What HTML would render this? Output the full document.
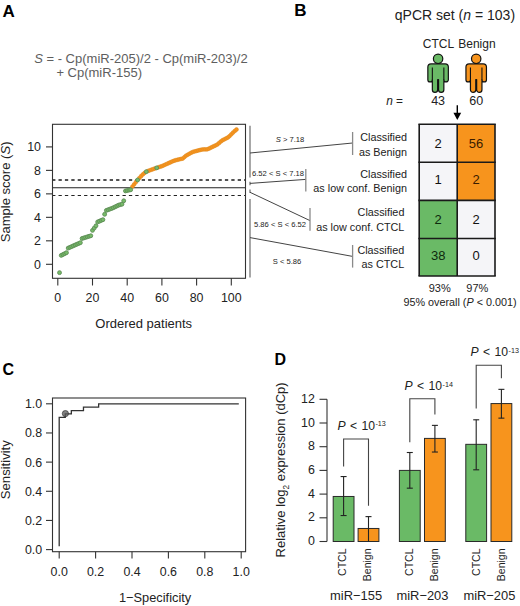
<!DOCTYPE html>
<html><head><meta charset="utf-8"><style>
html,body{margin:0;padding:0;background:#fff;}
svg{display:block;font-family:"Liberation Sans", sans-serif;}
</style></head><body>
<svg width="520" height="606" viewBox="0 0 520 606">
<rect width="520" height="606" fill="#fff"/>
<text x="2.5" y="16.8" font-size="17" text-anchor="start" font-weight="bold" fill="#000" >A</text>
<text x="294.2" y="16.3" font-size="17" text-anchor="start" font-weight="bold" fill="#000" >B</text>
<text x="2.4" y="374.9" font-size="16" text-anchor="start" font-weight="bold" fill="#000" >C</text>
<text x="274.4" y="364.9" font-size="16" text-anchor="start" font-weight="bold" fill="#000" >D</text>
<text x="34.2" y="63" font-size="13" fill="#5e5e5e"><tspan font-style="italic">S</tspan> = - Cp(miR-205)/2 - Cp(miR-203)/2</text>
<text x="56.4" y="77.3" font-size="13" text-anchor="start" font-weight="normal" fill="#5e5e5e" >+ Cp(miR-155)</text>
<line x1="52.5" y1="180.0068" x2="245.5" y2="180.0068" stroke="#1a1a1a" stroke-width="1.3" stroke-dasharray="3.3 3.1" stroke-dashoffset="0.4"/>
<line x1="52.5" y1="195.5036" x2="245.5" y2="195.5036" stroke="#222" stroke-width="1.1" stroke-dasharray="3.3 3.1" stroke-dashoffset="0.4"/>
<line x1="52.5" y1="187.7552" x2="245.5" y2="187.7552" stroke="#222" stroke-width="1.1" />
<circle cx="132.41" cy="186.58" r="1.9" fill="#f7941d" stroke="#e08a1f" stroke-width="0.6"/>
<circle cx="134.14" cy="184.33" r="1.9" fill="#f7941d" stroke="#e08a1f" stroke-width="0.6"/>
<circle cx="135.88" cy="182.07" r="1.9" fill="#f7941d" stroke="#e08a1f" stroke-width="0.6"/>
<circle cx="139.34" cy="178.08" r="1.9" fill="#f7941d" stroke="#e08a1f" stroke-width="0.6"/>
<circle cx="141.08" cy="176.18" r="1.9" fill="#f7941d" stroke="#e08a1f" stroke-width="0.6"/>
<circle cx="142.81" cy="174.40" r="1.9" fill="#f7941d" stroke="#e08a1f" stroke-width="0.6"/>
<circle cx="144.55" cy="172.93" r="1.9" fill="#f7941d" stroke="#e08a1f" stroke-width="0.6"/>
<circle cx="148.02" cy="170.99" r="1.9" fill="#f7941d" stroke="#e08a1f" stroke-width="0.6"/>
<circle cx="149.75" cy="170.31" r="1.9" fill="#f7941d" stroke="#e08a1f" stroke-width="0.6"/>
<circle cx="151.49" cy="169.70" r="1.9" fill="#f7941d" stroke="#e08a1f" stroke-width="0.6"/>
<circle cx="153.23" cy="169.08" r="1.9" fill="#f7941d" stroke="#e08a1f" stroke-width="0.6"/>
<circle cx="154.96" cy="168.46" r="1.9" fill="#f7941d" stroke="#e08a1f" stroke-width="0.6"/>
<circle cx="158.43" cy="167.29" r="1.9" fill="#f7941d" stroke="#e08a1f" stroke-width="0.6"/>
<circle cx="160.17" cy="166.72" r="1.9" fill="#f7941d" stroke="#e08a1f" stroke-width="0.6"/>
<circle cx="161.90" cy="166.15" r="1.9" fill="#f7941d" stroke="#e08a1f" stroke-width="0.6"/>
<circle cx="163.63" cy="165.37" r="1.9" fill="#f7941d" stroke="#e08a1f" stroke-width="0.6"/>
<circle cx="165.37" cy="164.59" r="1.9" fill="#f7941d" stroke="#e08a1f" stroke-width="0.6"/>
<circle cx="167.11" cy="163.81" r="1.9" fill="#f7941d" stroke="#e08a1f" stroke-width="0.6"/>
<circle cx="168.84" cy="163.02" r="1.9" fill="#f7941d" stroke="#e08a1f" stroke-width="0.6"/>
<circle cx="170.57" cy="162.24" r="1.9" fill="#f7941d" stroke="#e08a1f" stroke-width="0.6"/>
<circle cx="172.31" cy="161.46" r="1.9" fill="#f7941d" stroke="#e08a1f" stroke-width="0.6"/>
<circle cx="174.05" cy="160.77" r="1.9" fill="#f7941d" stroke="#e08a1f" stroke-width="0.6"/>
<circle cx="175.78" cy="160.21" r="1.9" fill="#f7941d" stroke="#e08a1f" stroke-width="0.6"/>
<circle cx="177.51" cy="159.76" r="1.9" fill="#f7941d" stroke="#e08a1f" stroke-width="0.6"/>
<circle cx="179.25" cy="159.35" r="1.9" fill="#f7941d" stroke="#e08a1f" stroke-width="0.6"/>
<circle cx="180.99" cy="158.94" r="1.9" fill="#f7941d" stroke="#e08a1f" stroke-width="0.6"/>
<circle cx="182.72" cy="158.53" r="1.9" fill="#f7941d" stroke="#e08a1f" stroke-width="0.6"/>
<circle cx="184.45" cy="157.04" r="1.9" fill="#f7941d" stroke="#e08a1f" stroke-width="0.6"/>
<circle cx="186.19" cy="155.57" r="1.9" fill="#f7941d" stroke="#e08a1f" stroke-width="0.6"/>
<circle cx="187.93" cy="154.59" r="1.9" fill="#f7941d" stroke="#e08a1f" stroke-width="0.6"/>
<circle cx="189.66" cy="153.61" r="1.9" fill="#f7941d" stroke="#e08a1f" stroke-width="0.6"/>
<circle cx="191.39" cy="152.63" r="1.9" fill="#f7941d" stroke="#e08a1f" stroke-width="0.6"/>
<circle cx="193.13" cy="151.81" r="1.9" fill="#f7941d" stroke="#e08a1f" stroke-width="0.6"/>
<circle cx="194.87" cy="151.36" r="1.9" fill="#f7941d" stroke="#e08a1f" stroke-width="0.6"/>
<circle cx="196.60" cy="150.91" r="1.9" fill="#f7941d" stroke="#e08a1f" stroke-width="0.6"/>
<circle cx="198.33" cy="150.45" r="1.9" fill="#f7941d" stroke="#e08a1f" stroke-width="0.6"/>
<circle cx="200.07" cy="150.00" r="1.9" fill="#f7941d" stroke="#e08a1f" stroke-width="0.6"/>
<circle cx="201.81" cy="149.55" r="1.9" fill="#f7941d" stroke="#e08a1f" stroke-width="0.6"/>
<circle cx="203.54" cy="149.37" r="1.9" fill="#f7941d" stroke="#e08a1f" stroke-width="0.6"/>
<circle cx="205.27" cy="149.37" r="1.9" fill="#f7941d" stroke="#e08a1f" stroke-width="0.6"/>
<circle cx="207.01" cy="149.37" r="1.9" fill="#f7941d" stroke="#e08a1f" stroke-width="0.6"/>
<circle cx="208.75" cy="148.69" r="1.9" fill="#f7941d" stroke="#e08a1f" stroke-width="0.6"/>
<circle cx="210.48" cy="147.85" r="1.9" fill="#f7941d" stroke="#e08a1f" stroke-width="0.6"/>
<circle cx="212.22" cy="147.00" r="1.9" fill="#f7941d" stroke="#e08a1f" stroke-width="0.6"/>
<circle cx="213.95" cy="146.16" r="1.9" fill="#f7941d" stroke="#e08a1f" stroke-width="0.6"/>
<circle cx="215.69" cy="145.31" r="1.9" fill="#f7941d" stroke="#e08a1f" stroke-width="0.6"/>
<circle cx="217.42" cy="144.41" r="1.9" fill="#f7941d" stroke="#e08a1f" stroke-width="0.6"/>
<circle cx="219.16" cy="142.94" r="1.9" fill="#f7941d" stroke="#e08a1f" stroke-width="0.6"/>
<circle cx="220.89" cy="141.47" r="1.9" fill="#f7941d" stroke="#e08a1f" stroke-width="0.6"/>
<circle cx="222.62" cy="140.18" r="1.9" fill="#f7941d" stroke="#e08a1f" stroke-width="0.6"/>
<circle cx="224.36" cy="139.29" r="1.9" fill="#f7941d" stroke="#e08a1f" stroke-width="0.6"/>
<circle cx="226.10" cy="138.40" r="1.9" fill="#f7941d" stroke="#e08a1f" stroke-width="0.6"/>
<circle cx="227.83" cy="137.51" r="1.9" fill="#f7941d" stroke="#e08a1f" stroke-width="0.6"/>
<circle cx="229.56" cy="136.09" r="1.9" fill="#f7941d" stroke="#e08a1f" stroke-width="0.6"/>
<circle cx="231.30" cy="134.31" r="1.9" fill="#f7941d" stroke="#e08a1f" stroke-width="0.6"/>
<circle cx="233.04" cy="132.53" r="1.9" fill="#f7941d" stroke="#e08a1f" stroke-width="0.6"/>
<circle cx="234.77" cy="130.93" r="1.9" fill="#f7941d" stroke="#e08a1f" stroke-width="0.6"/>
<circle cx="236.50" cy="129.52" r="1.9" fill="#f7941d" stroke="#e08a1f" stroke-width="0.6"/>
<circle cx="59.53" cy="272.64" r="1.95" fill="#76bb68" stroke="#5d8c56" stroke-width="0.9"/>
<circle cx="61.27" cy="255.38" r="1.95" fill="#76bb68" stroke="#5d8c56" stroke-width="0.9"/>
<circle cx="63.00" cy="254.48" r="1.95" fill="#76bb68" stroke="#5d8c56" stroke-width="0.9"/>
<circle cx="64.74" cy="253.58" r="1.95" fill="#76bb68" stroke="#5d8c56" stroke-width="0.9"/>
<circle cx="66.47" cy="252.68" r="1.95" fill="#76bb68" stroke="#5d8c56" stroke-width="0.9"/>
<circle cx="68.21" cy="248.10" r="1.95" fill="#76bb68" stroke="#5d8c56" stroke-width="0.9"/>
<circle cx="69.94" cy="247.33" r="1.95" fill="#76bb68" stroke="#5d8c56" stroke-width="0.9"/>
<circle cx="71.68" cy="246.56" r="1.95" fill="#76bb68" stroke="#5d8c56" stroke-width="0.9"/>
<circle cx="73.41" cy="245.78" r="1.95" fill="#76bb68" stroke="#5d8c56" stroke-width="0.9"/>
<circle cx="75.15" cy="245.01" r="1.95" fill="#76bb68" stroke="#5d8c56" stroke-width="0.9"/>
<circle cx="76.88" cy="244.24" r="1.95" fill="#76bb68" stroke="#5d8c56" stroke-width="0.9"/>
<circle cx="78.62" cy="243.47" r="1.95" fill="#76bb68" stroke="#5d8c56" stroke-width="0.9"/>
<circle cx="80.35" cy="242.70" r="1.95" fill="#76bb68" stroke="#5d8c56" stroke-width="0.9"/>
<circle cx="82.09" cy="238.47" r="1.95" fill="#76bb68" stroke="#5d8c56" stroke-width="0.9"/>
<circle cx="83.83" cy="237.93" r="1.95" fill="#76bb68" stroke="#5d8c56" stroke-width="0.9"/>
<circle cx="85.56" cy="237.39" r="1.95" fill="#76bb68" stroke="#5d8c56" stroke-width="0.9"/>
<circle cx="87.30" cy="236.85" r="1.95" fill="#76bb68" stroke="#5d8c56" stroke-width="0.9"/>
<circle cx="89.03" cy="236.31" r="1.95" fill="#76bb68" stroke="#5d8c56" stroke-width="0.9"/>
<circle cx="90.77" cy="235.77" r="1.95" fill="#76bb68" stroke="#5d8c56" stroke-width="0.9"/>
<circle cx="92.50" cy="230.37" r="1.95" fill="#76bb68" stroke="#5d8c56" stroke-width="0.9"/>
<circle cx="94.23" cy="228.08" r="1.95" fill="#76bb68" stroke="#5d8c56" stroke-width="0.9"/>
<circle cx="95.97" cy="225.79" r="1.95" fill="#76bb68" stroke="#5d8c56" stroke-width="0.9"/>
<circle cx="97.70" cy="221.92" r="1.95" fill="#76bb68" stroke="#5d8c56" stroke-width="0.9"/>
<circle cx="99.44" cy="221.18" r="1.95" fill="#76bb68" stroke="#5d8c56" stroke-width="0.9"/>
<circle cx="101.17" cy="220.43" r="1.95" fill="#76bb68" stroke="#5d8c56" stroke-width="0.9"/>
<circle cx="102.91" cy="219.69" r="1.95" fill="#76bb68" stroke="#5d8c56" stroke-width="0.9"/>
<circle cx="104.65" cy="214.29" r="1.95" fill="#76bb68" stroke="#5d8c56" stroke-width="0.9"/>
<circle cx="106.38" cy="210.41" r="1.95" fill="#76bb68" stroke="#5d8c56" stroke-width="0.9"/>
<circle cx="108.12" cy="209.76" r="1.95" fill="#76bb68" stroke="#5d8c56" stroke-width="0.9"/>
<circle cx="109.85" cy="209.11" r="1.95" fill="#76bb68" stroke="#5d8c56" stroke-width="0.9"/>
<circle cx="111.59" cy="208.46" r="1.95" fill="#76bb68" stroke="#5d8c56" stroke-width="0.9"/>
<circle cx="113.32" cy="207.73" r="1.95" fill="#76bb68" stroke="#5d8c56" stroke-width="0.9"/>
<circle cx="115.06" cy="206.88" r="1.95" fill="#76bb68" stroke="#5d8c56" stroke-width="0.9"/>
<circle cx="116.79" cy="206.03" r="1.95" fill="#76bb68" stroke="#5d8c56" stroke-width="0.9"/>
<circle cx="118.53" cy="205.18" r="1.95" fill="#76bb68" stroke="#5d8c56" stroke-width="0.9"/>
<circle cx="120.26" cy="204.65" r="1.95" fill="#76bb68" stroke="#5d8c56" stroke-width="0.9"/>
<circle cx="122.00" cy="204.19" r="1.95" fill="#76bb68" stroke="#5d8c56" stroke-width="0.9"/>
<circle cx="123.73" cy="200.79" r="1.95" fill="#76bb68" stroke="#5d8c56" stroke-width="0.9"/>
<circle cx="125.47" cy="190.93" r="1.95" fill="#76bb68" stroke="#5d8c56" stroke-width="0.9"/>
<circle cx="127.20" cy="190.53" r="1.95" fill="#76bb68" stroke="#5d8c56" stroke-width="0.9"/>
<circle cx="128.94" cy="190.14" r="1.95" fill="#76bb68" stroke="#5d8c56" stroke-width="0.9"/>
<circle cx="130.67" cy="189.75" r="1.95" fill="#76bb68" stroke="#5d8c56" stroke-width="0.9"/>
<circle cx="137.61" cy="179.99" r="1.95" fill="#76bb68" stroke="#5d8c56" stroke-width="0.9"/>
<circle cx="146.28" cy="171.69" r="1.95" fill="#76bb68" stroke="#5d8c56" stroke-width="0.9"/>
<circle cx="156.69" cy="167.86" r="1.95" fill="#76bb68" stroke="#5d8c56" stroke-width="0.9"/>
<rect x="52.5" y="124.3" width="193" height="154" fill="none" stroke="#333" stroke-width="1.1" />
<line x1="46" y1="264.3" x2="52.5" y2="264.3" stroke="#333" stroke-width="1.1" />
<text x="41" y="268.5" font-size="12.4" text-anchor="end" font-weight="normal" fill="#222" >0</text>
<line x1="46" y1="240.82000000000002" x2="52.5" y2="240.82000000000002" stroke="#333" stroke-width="1.1" />
<text x="41" y="245.02" font-size="12.4" text-anchor="end" font-weight="normal" fill="#222" >2</text>
<line x1="46" y1="217.34" x2="52.5" y2="217.34" stroke="#333" stroke-width="1.1" />
<text x="41" y="221.54" font-size="12.4" text-anchor="end" font-weight="normal" fill="#222" >4</text>
<line x1="46" y1="193.86" x2="52.5" y2="193.86" stroke="#333" stroke-width="1.1" />
<text x="41" y="198.06" font-size="12.4" text-anchor="end" font-weight="normal" fill="#222" >6</text>
<line x1="46" y1="170.38" x2="52.5" y2="170.38" stroke="#333" stroke-width="1.1" />
<text x="41" y="174.57999999999998" font-size="12.4" text-anchor="end" font-weight="normal" fill="#222" >8</text>
<line x1="46" y1="146.9" x2="52.5" y2="146.9" stroke="#333" stroke-width="1.1" />
<text x="41" y="151.1" font-size="12.4" text-anchor="end" font-weight="normal" fill="#222" >10</text>
<line x1="57.8" y1="278.3" x2="57.8" y2="285.5" stroke="#333" stroke-width="1.1" />
<text x="57.8" y="302.2" font-size="12.4" text-anchor="middle" font-weight="normal" fill="#222" >0</text>
<line x1="92.5" y1="278.3" x2="92.5" y2="285.5" stroke="#333" stroke-width="1.1" />
<text x="92.5" y="302.2" font-size="12.4" text-anchor="middle" font-weight="normal" fill="#222" >20</text>
<line x1="127.2" y1="278.3" x2="127.2" y2="285.5" stroke="#333" stroke-width="1.1" />
<text x="127.2" y="302.2" font-size="12.4" text-anchor="middle" font-weight="normal" fill="#222" >40</text>
<line x1="161.9" y1="278.3" x2="161.9" y2="285.5" stroke="#333" stroke-width="1.1" />
<text x="161.9" y="302.2" font-size="12.4" text-anchor="middle" font-weight="normal" fill="#222" >60</text>
<line x1="196.60000000000002" y1="278.3" x2="196.60000000000002" y2="285.5" stroke="#333" stroke-width="1.1" />
<text x="196.60000000000002" y="302.2" font-size="12.4" text-anchor="middle" font-weight="normal" fill="#222" >80</text>
<line x1="231.3" y1="278.3" x2="231.3" y2="285.5" stroke="#333" stroke-width="1.1" />
<text x="231.3" y="302.2" font-size="12.4" text-anchor="middle" font-weight="normal" fill="#222" >100</text>
<text x="143.7" y="328.1" font-size="13" text-anchor="middle" font-weight="normal" fill="#222" >Ordered patients</text>
<text transform="translate(9.9,191.9) rotate(-90)" x="0" y="0" font-size="13.05" text-anchor="middle" fill="#222">Sample score (<tspan font-style="italic">S</tspan>)</text>
<line x1="250" y1="125.8" x2="250" y2="177.5" stroke="#8a8a8a" stroke-width="1.5" />
<line x1="250" y1="181.8" x2="250" y2="185.3" stroke="#8a8a8a" stroke-width="1.5" />
<line x1="250" y1="189.4" x2="250" y2="193.1" stroke="#8a8a8a" stroke-width="1.5" />
<line x1="250" y1="198.9" x2="250" y2="277.5" stroke="#8a8a8a" stroke-width="1.5" />
<line x1="250" y1="153" x2="352.6" y2="143" stroke="#444" stroke-width="1" />
<line x1="250" y1="183.4" x2="305.8" y2="179.4" stroke="#444" stroke-width="1" />
<line x1="250" y1="192.3" x2="310" y2="220.6" stroke="#444" stroke-width="1" />
<line x1="250" y1="237.6" x2="352.6" y2="256.4" stroke="#444" stroke-width="1" />
<line x1="352.6" y1="132" x2="352.6" y2="155" stroke="#8a8a8a" stroke-width="1.3" />
<line x1="305.8" y1="169" x2="305.8" y2="191.5" stroke="#8a8a8a" stroke-width="1.3" />
<line x1="310" y1="208" x2="310" y2="230.8" stroke="#8a8a8a" stroke-width="1.3" />
<line x1="352.6" y1="245" x2="352.6" y2="267.6" stroke="#8a8a8a" stroke-width="1.3" />
<text x="290" y="142.4" font-size="7.6" text-anchor="middle" fill="#222"><tspan font-style="italic">S</tspan> &gt; 7.18</text>
<text x="278" y="175.7" font-size="7.6" text-anchor="middle" font-weight="normal" fill="#222" >6.52 &lt; S &lt; 7.18</text>
<text x="280" y="227.3" font-size="7.6" text-anchor="middle" font-weight="normal" fill="#222" >5.86 &lt; S &lt; 6.52</text>
<text x="287" y="263.7" font-size="7.6" text-anchor="middle" font-weight="normal" fill="#222" >S &lt; 5.86</text>
<text x="407.0" y="140.8" font-size="10.8" text-anchor="end" font-weight="normal" fill="#222" >Classified</text>
<text x="407.0" y="155.7" font-size="10.8" text-anchor="end" font-weight="normal" fill="#222" >as Benign</text>
<text x="407.0" y="177.7" font-size="10.8" text-anchor="end" font-weight="normal" fill="#222" >Classified</text>
<text x="407.0" y="192.2" font-size="10.8" text-anchor="end" font-weight="normal" fill="#222" >as low conf. Benign</text>
<text x="404.4" y="216.3" font-size="10.8" text-anchor="end" font-weight="normal" fill="#222" >Classified</text>
<text x="404.4" y="231.2" font-size="10.8" text-anchor="end" font-weight="normal" fill="#222" >as low conf. CTCL</text>
<text x="404.2" y="253.6" font-size="10.8" text-anchor="end" font-weight="normal" fill="#222" >Classified</text>
<text x="404.2" y="268.2" font-size="10.8" text-anchor="end" font-weight="normal" fill="#222" >as CTCL</text>
<text x="394.8" y="20.2" font-size="14" fill="#222">qPCR set (<tspan font-style="italic">n</tspan> = 103)</text>
<text x="438.4" y="47.9" font-size="12" text-anchor="middle" font-weight="normal" fill="#222" >CTCL</text>
<text x="476.9" y="47.9" font-size="12" text-anchor="middle" font-weight="normal" fill="#222" >Benign</text>
<circle cx="438.1" cy="58.8" r="4.7" fill="#6aba66" stroke="#111" stroke-width="1.2"/>
<path d="M431.05,63.9 L445.15000000000003,63.9 A3.2,3.2 0 0 1 448.35,67.1 L448.35,79.65 A2.25,2.25 0 0 1 443.85,79.65 L443.85,89.75 A2.65,2.65 0 0 1 438.55,89.75 L438.55,79.6 L437.65000000000003,79.6 L437.65000000000003,89.75 A2.65,2.65 0 0 1 432.35,89.75 L432.35,79.65 A2.25,2.25 0 0 1 427.85,79.65 L427.85,67.1 A3.2,3.2 0 0 1 431.05,63.9 Z" fill="#6aba66" stroke="#111" stroke-width="1.2" stroke-linejoin="round"/>
<line x1="432.35" y1="67.6" x2="432.35" y2="79.65" stroke="#111" stroke-width="1.1" />
<line x1="443.85" y1="67.6" x2="443.85" y2="79.65" stroke="#111" stroke-width="1.1" />
<circle cx="476.2" cy="58.8" r="4.7" fill="#f7941d" stroke="#111" stroke-width="1.2"/>
<path d="M469.15,63.9 L483.25,63.9 A3.2,3.2 0 0 1 486.45,67.1 L486.45,79.65 A2.25,2.25 0 0 1 481.95,79.65 L481.95,89.75 A2.65,2.65 0 0 1 476.65,89.75 L476.65,79.6 L475.75,79.6 L475.75,89.75 A2.65,2.65 0 0 1 470.45,89.75 L470.45,79.65 A2.25,2.25 0 0 1 465.95,79.65 L465.95,67.1 A3.2,3.2 0 0 1 469.15,63.9 Z" fill="#f7941d" stroke="#111" stroke-width="1.2" stroke-linejoin="round"/>
<line x1="470.45" y1="67.6" x2="470.45" y2="79.65" stroke="#111" stroke-width="1.1" />
<line x1="481.95" y1="67.6" x2="481.95" y2="79.65" stroke="#111" stroke-width="1.1" />
<text x="386.2" y="105" font-size="11.9" fill="#222"><tspan font-style="italic">n</tspan> =</text>
<text x="438.1" y="104.5" font-size="12.5" text-anchor="middle" font-weight="normal" fill="#222" >43</text>
<text x="476.2" y="104.5" font-size="12.5" text-anchor="middle" font-weight="normal" fill="#222" >60</text>
<line x1="457.3" y1="105.3" x2="457.3" y2="113.5" stroke="#000" stroke-width="1.4" />
<path d="M453.4,112.8 L461.2,112.8 L457.3,119.9 Z" fill="#000"/>
<rect x="419.2" y="124.2" width="38.0" height="38.10000000000001" fill="#f5f5f8" stroke="none" stroke-width="0" />
<text x="438.2" y="148.1" font-size="13" text-anchor="middle" font-weight="normal" fill="#111" >2</text>
<rect x="457.2" y="124.2" width="37.80000000000001" height="38.10000000000001" fill="#f7941d" stroke="none" stroke-width="0" />
<text x="476.1" y="148.1" font-size="13" text-anchor="middle" font-weight="normal" fill="#3a1c00" >56</text>
<rect x="419.2" y="162.3" width="38.0" height="38.099999999999994" fill="#f5f5f8" stroke="none" stroke-width="0" />
<text x="438.2" y="184.4" font-size="13" text-anchor="middle" font-weight="normal" fill="#111" >1</text>
<rect x="457.2" y="162.3" width="37.80000000000001" height="38.099999999999994" fill="#f7941d" stroke="none" stroke-width="0" />
<text x="476.1" y="184.4" font-size="13" text-anchor="middle" font-weight="normal" fill="#3a1c00" >2</text>
<rect x="419.2" y="200.4" width="38.0" height="38.099999999999994" fill="#6aba66" stroke="none" stroke-width="0" />
<text x="438.2" y="223.6" font-size="13" text-anchor="middle" font-weight="normal" fill="#0d2a0d" >2</text>
<rect x="457.2" y="200.4" width="37.80000000000001" height="38.099999999999994" fill="#f5f5f8" stroke="none" stroke-width="0" />
<text x="476.1" y="223.6" font-size="13" text-anchor="middle" font-weight="normal" fill="#111" >2</text>
<rect x="419.2" y="238.5" width="38.0" height="37.5" fill="#6aba66" stroke="none" stroke-width="0" />
<text x="438.2" y="260.4" font-size="13" text-anchor="middle" font-weight="normal" fill="#0d2a0d" >38</text>
<rect x="457.2" y="238.5" width="37.80000000000001" height="37.5" fill="#f5f5f8" stroke="none" stroke-width="0" />
<text x="476.1" y="260.4" font-size="13" text-anchor="middle" font-weight="normal" fill="#111" >0</text>
<line x1="418.4" y1="124.2" x2="495.8" y2="124.2" stroke="#1a1a1a" stroke-width="1.6" />
<line x1="418.4" y1="162.3" x2="495.8" y2="162.3" stroke="#1a1a1a" stroke-width="1.6" />
<line x1="418.4" y1="200.4" x2="495.8" y2="200.4" stroke="#1a1a1a" stroke-width="1.6" />
<line x1="418.4" y1="238.5" x2="495.8" y2="238.5" stroke="#1a1a1a" stroke-width="1.6" />
<line x1="418.4" y1="276" x2="495.8" y2="276" stroke="#1a1a1a" stroke-width="1.6" />
<line x1="419.2" y1="124.2" x2="419.2" y2="276" stroke="#1a1a1a" stroke-width="1.6" />
<line x1="457.2" y1="124.2" x2="457.2" y2="276" stroke="#1a1a1a" stroke-width="1.6" />
<line x1="495" y1="124.2" x2="495" y2="276" stroke="#1a1a1a" stroke-width="1.6" />
<text x="439.7" y="291.5" font-size="11" text-anchor="middle" font-weight="normal" fill="#222" >93%</text>
<text x="477.3" y="291.5" font-size="11" text-anchor="middle" font-weight="normal" fill="#222" >97%</text>
<text x="460" y="306.1" font-size="10.8" text-anchor="middle" fill="#222">95% overall (<tspan font-style="italic">P</tspan> &lt; 0.001)</text>
<rect x="52.5" y="398" width="193.1" height="153.7" fill="none" stroke="#333" stroke-width="1.1" />
<line x1="46" y1="549.6" x2="52.5" y2="549.6" stroke="#333" stroke-width="1.1" />
<text x="42.2" y="554.1" font-size="12.4" text-anchor="end" font-weight="normal" fill="#222" >0.0</text>
<line x1="59.2" y1="551.7" x2="59.2" y2="558.5" stroke="#333" stroke-width="1.1" />
<text x="59.2" y="575.8" font-size="12.4" text-anchor="middle" font-weight="normal" fill="#222" >0.0</text>
<line x1="46" y1="520.44" x2="52.5" y2="520.44" stroke="#333" stroke-width="1.1" />
<text x="42.2" y="524.94" font-size="12.4" text-anchor="end" font-weight="normal" fill="#222" >0.2</text>
<line x1="95.6" y1="551.7" x2="95.6" y2="558.5" stroke="#333" stroke-width="1.1" />
<text x="95.6" y="575.8" font-size="12.4" text-anchor="middle" font-weight="normal" fill="#222" >0.2</text>
<line x1="46" y1="491.28000000000003" x2="52.5" y2="491.28000000000003" stroke="#333" stroke-width="1.1" />
<text x="42.2" y="495.78000000000003" font-size="12.4" text-anchor="end" font-weight="normal" fill="#222" >0.4</text>
<line x1="132.0" y1="551.7" x2="132.0" y2="558.5" stroke="#333" stroke-width="1.1" />
<text x="132.0" y="575.8" font-size="12.4" text-anchor="middle" font-weight="normal" fill="#222" >0.4</text>
<line x1="46" y1="462.12" x2="52.5" y2="462.12" stroke="#333" stroke-width="1.1" />
<text x="42.2" y="466.62" font-size="12.4" text-anchor="end" font-weight="normal" fill="#222" >0.6</text>
<line x1="168.4" y1="551.7" x2="168.4" y2="558.5" stroke="#333" stroke-width="1.1" />
<text x="168.4" y="575.8" font-size="12.4" text-anchor="middle" font-weight="normal" fill="#222" >0.6</text>
<line x1="46" y1="432.96000000000004" x2="52.5" y2="432.96000000000004" stroke="#333" stroke-width="1.1" />
<text x="42.2" y="437.46000000000004" font-size="12.4" text-anchor="end" font-weight="normal" fill="#222" >0.8</text>
<line x1="204.8" y1="551.7" x2="204.8" y2="558.5" stroke="#333" stroke-width="1.1" />
<text x="204.8" y="575.8" font-size="12.4" text-anchor="middle" font-weight="normal" fill="#222" >0.8</text>
<line x1="46" y1="403.8" x2="52.5" y2="403.8" stroke="#333" stroke-width="1.1" />
<text x="42.2" y="408.3" font-size="12.4" text-anchor="end" font-weight="normal" fill="#222" >1.0</text>
<line x1="241.2" y1="551.7" x2="241.2" y2="558.5" stroke="#333" stroke-width="1.1" />
<text x="241.2" y="575.8" font-size="12.4" text-anchor="middle" font-weight="normal" fill="#222" >1.0</text>
<path d="M59.20,546.25 L59.20,417.36 L65.27,417.36 L65.27,413.97 L71.33,413.97 L71.33,410.58 L83.47,410.58 L83.47,407.19 L98.63,407.19 L98.63,403.80 L238.80,403.80" fill="none" stroke="#333" stroke-width="1.3"/>
<circle cx="65.4" cy="413.6" r="3.1" fill="#5a5a5a" fill-opacity="0.75" stroke="#333" stroke-width="0.7"/>
<text x="155.1" y="602.0" font-size="12.8" text-anchor="middle" font-weight="normal" fill="#222" >1−Specificity</text>
<text transform="translate(10.1,469.7) rotate(-90)" x="0" y="0" font-size="13.1" text-anchor="middle" fill="#222">Sensitivity</text>
<line x1="327" y1="541.5" x2="327" y2="399.3" stroke="#333" stroke-width="1.1" />
<line x1="319.5" y1="541.5" x2="327" y2="541.5" stroke="#333" stroke-width="1.1" />
<text x="314.8" y="545.0" font-size="12.4" text-anchor="end" font-weight="normal" fill="#222" >0</text>
<line x1="319.5" y1="517.8" x2="327" y2="517.8" stroke="#333" stroke-width="1.1" />
<text x="314.8" y="521.3" font-size="12.4" text-anchor="end" font-weight="normal" fill="#222" >2</text>
<line x1="319.5" y1="494.1" x2="327" y2="494.1" stroke="#333" stroke-width="1.1" />
<text x="314.8" y="497.6" font-size="12.4" text-anchor="end" font-weight="normal" fill="#222" >4</text>
<line x1="319.5" y1="470.4" x2="327" y2="470.4" stroke="#333" stroke-width="1.1" />
<text x="314.8" y="473.9" font-size="12.4" text-anchor="end" font-weight="normal" fill="#222" >6</text>
<line x1="319.5" y1="446.7" x2="327" y2="446.7" stroke="#333" stroke-width="1.1" />
<text x="314.8" y="450.2" font-size="12.4" text-anchor="end" font-weight="normal" fill="#222" >8</text>
<line x1="319.5" y1="423.0" x2="327" y2="423.0" stroke="#333" stroke-width="1.1" />
<text x="314.8" y="426.5" font-size="12.4" text-anchor="end" font-weight="normal" fill="#222" >10</text>
<line x1="319.5" y1="399.3" x2="327" y2="399.3" stroke="#333" stroke-width="1.1" />
<text x="314.8" y="402.8" font-size="12.4" text-anchor="end" font-weight="normal" fill="#222" >12</text>
<text transform="translate(285.3,469.9) rotate(-90)" x="0" y="0" font-size="13" text-anchor="middle" fill="#222">Relative log<tspan font-size="8.2" dy="3.6">2</tspan><tspan dy="-3.6"> expression (dCp)</tspan></text>
<rect x="333.20000000000005" y="496.47" width="20.8" height="45.02999999999997" fill="#6aba66" stroke="#2a2a2a" stroke-width="1" />
<rect x="358.1" y="528.465" width="20.8" height="13.034999999999968" fill="#f7941d" stroke="#2a2a2a" stroke-width="1" />
<line x1="343.6" y1="515.5485" x2="343.6" y2="476.562" stroke="#222" stroke-width="1.1" />
<line x1="340.6" y1="476.562" x2="346.6" y2="476.562" stroke="#222" stroke-width="1.1" />
<line x1="340.6" y1="515.5485" x2="346.6" y2="515.5485" stroke="#222" stroke-width="1.1" />
<line x1="368.5" y1="541.5" x2="368.5" y2="516.615" stroke="#222" stroke-width="1.1" />
<line x1="365.5" y1="516.615" x2="371.5" y2="516.615" stroke="#222" stroke-width="1.1" />
<path d="M343.6,466.5 L343.6,439 L368.5,439 L368.5,505.7" fill="none" stroke="#444" stroke-width="1.1"/>
<text x="337.4" y="429.8" font-size="12.2" fill="#222"><tspan font-style="italic">P</tspan><tspan dx="1"> &lt; </tspan><tspan dx="1">10</tspan><tspan font-size="7.2" dx="0.4" dy="-3.4">-13</tspan></text>
<text transform="translate(345.70000000000005,548.5) rotate(-90)" font-size="10.5" text-anchor="end" fill="#222">CTCL</text>
<text transform="translate(370.6,548.5) rotate(-90)" font-size="10.5" text-anchor="end" fill="#222">Benign</text>
<rect x="399.40000000000003" y="470.4" width="20.8" height="71.10000000000002" fill="#6aba66" stroke="#2a2a2a" stroke-width="1" />
<rect x="424.5" y="438.40500000000003" width="20.8" height="103.09499999999997" fill="#f7941d" stroke="#2a2a2a" stroke-width="1" />
<line x1="409.8" y1="488.175" x2="409.8" y2="452.5065" stroke="#222" stroke-width="1.1" />
<line x1="406.8" y1="452.5065" x2="412.8" y2="452.5065" stroke="#222" stroke-width="1.1" />
<line x1="406.8" y1="488.175" x2="412.8" y2="488.175" stroke="#222" stroke-width="1.1" />
<line x1="434.9" y1="452.0325" x2="434.9" y2="425.37" stroke="#222" stroke-width="1.1" />
<line x1="431.9" y1="425.37" x2="437.9" y2="425.37" stroke="#222" stroke-width="1.1" />
<line x1="431.9" y1="452.0325" x2="437.9" y2="452.0325" stroke="#222" stroke-width="1.1" />
<path d="M409.8,442.3 L409.8,398.8 L434.9,398.8 L434.9,414.6" fill="none" stroke="#444" stroke-width="1.1"/>
<text x="404.5" y="390.2" font-size="12.2" fill="#222"><tspan font-style="italic">P</tspan><tspan dx="1"> &lt; </tspan><tspan dx="1">10</tspan><tspan font-size="7.2" dx="0.4" dy="-3.4">-14</tspan></text>
<text transform="translate(413.1,548.5) rotate(-90)" font-size="10.5" text-anchor="end" fill="#222">CTCL</text>
<text transform="translate(438.2,548.5) rotate(-90)" font-size="10.5" text-anchor="end" fill="#222">Benign</text>
<rect x="465.8" y="444.33000000000004" width="20.8" height="97.16999999999996" fill="#6aba66" stroke="#2a2a2a" stroke-width="1" />
<rect x="491.0" y="403.56600000000003" width="20.8" height="137.93399999999997" fill="#f7941d" stroke="#2a2a2a" stroke-width="1" />
<line x1="476.2" y1="469.8075" x2="476.2" y2="419.8005" stroke="#222" stroke-width="1.1" />
<line x1="473.2" y1="419.8005" x2="479.2" y2="419.8005" stroke="#222" stroke-width="1.1" />
<line x1="473.2" y1="469.8075" x2="479.2" y2="469.8075" stroke="#222" stroke-width="1.1" />
<line x1="501.4" y1="418.1415" x2="501.4" y2="389.346" stroke="#222" stroke-width="1.1" />
<line x1="498.4" y1="389.346" x2="504.4" y2="389.346" stroke="#222" stroke-width="1.1" />
<line x1="498.4" y1="418.1415" x2="504.4" y2="418.1415" stroke="#222" stroke-width="1.1" />
<path d="M476.2,408.5 L476.2,365.3 L501.4,365.3 L501.4,378.2" fill="none" stroke="#444" stroke-width="1.1"/>
<text x="470.5" y="356.4" font-size="12.2" fill="#222"><tspan font-style="italic">P</tspan><tspan dx="1"> &lt; </tspan><tspan dx="1">10</tspan><tspan font-size="7.2" dx="0.4" dy="-3.4">-13</tspan></text>
<text transform="translate(479.5,548.5) rotate(-90)" font-size="10.5" text-anchor="end" fill="#222">CTCL</text>
<text transform="translate(504.7,548.5) rotate(-90)" font-size="10.5" text-anchor="end" fill="#222">Benign</text>
<text x="356.1" y="599.9" font-size="12.9" text-anchor="middle" font-weight="normal" fill="#222" >miR−155</text>
<text x="422.5" y="599.9" font-size="12.9" text-anchor="middle" font-weight="normal" fill="#222" >miR−203</text>
<text x="489.4" y="599.9" font-size="12.9" text-anchor="middle" font-weight="normal" fill="#222" >miR−205</text>
</svg>
</body></html>
